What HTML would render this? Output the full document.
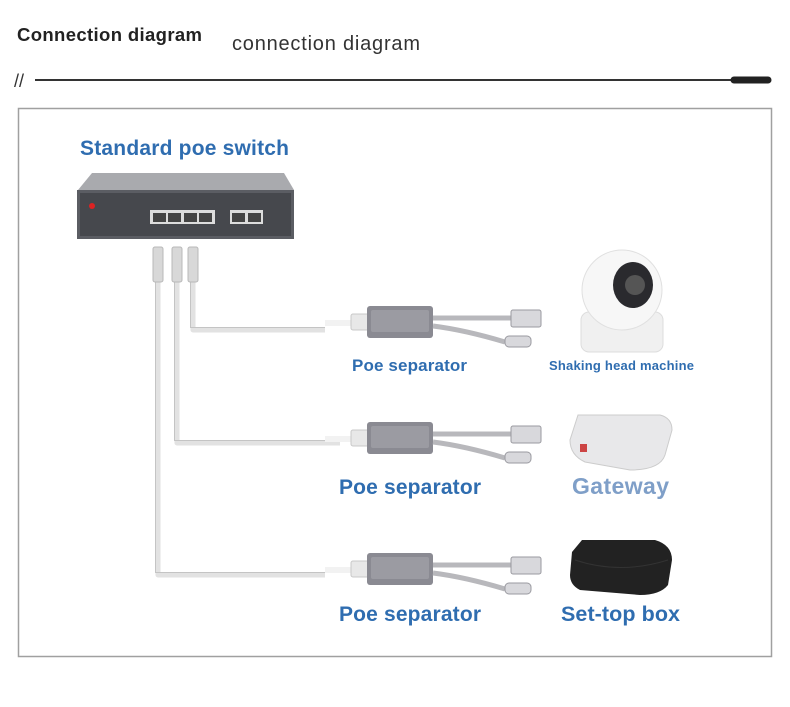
<!DOCTYPE html>
<html><head><meta charset="utf-8"><style>
body{margin:0;background:#fff;width:790px;height:707px;overflow:hidden;font-family:"Liberation Sans",sans-serif}
svg{display:block}
text{font-family:"Liberation Sans","DejaVu Sans",sans-serif}
</style></head><body>
<svg width="790" height="707" viewBox="0 0 790 707" xmlns="http://www.w3.org/2000/svg">
<defs>
<g id="sep">
  <path d="M0 14 L26 14 L26 20 L0 20 Z" fill="#f2f2f2"/>
  <rect x="26" y="8" width="28" height="16" rx="2" fill="#e8e8e8" stroke="#c8c8c8"/>
  <rect x="42" y="0" width="66" height="32" rx="3" fill="#8a8a92"/>
  <rect x="46" y="4" width="58" height="22" rx="2" fill="#9b9ba2"/>
  <path d="M108 12 L190 12 M108 20 Q140 24 180 36" stroke="#b8b8bc" stroke-width="5" fill="none"/>
  <rect x="186" y="4" width="30" height="17" rx="2" fill="#d8d8dc" stroke="#9a9aa0"/>
  <rect x="180" y="30" width="26" height="11" rx="4" fill="#d8d8dc" stroke="#9a9aa0"/>
</g>
</defs>
<text x="17" y="41" font-size="18.5" font-weight="bold" fill="#222" textLength="185">Connection diagram</text>
<text x="232" y="50" font-size="20" fill="#333" textLength="188">connection diagram</text>
<text x="14" y="87" font-size="18" fill="#333">//</text>
<line x1="35" y1="80" x2="735" y2="80" stroke="#333" stroke-width="2"/>
<line x1="734" y1="80" x2="768" y2="80" stroke="#222" stroke-width="7" stroke-linecap="round"/>
<rect x="18.5" y="108.5" width="753" height="548" fill="none" stroke="#a0a0a0" stroke-width="1.5"/>
<text x="80" y="155" font-size="21" font-weight="bold" fill="#2f6db0" textLength="209">Standard poe switch</text>
<path d="M92 173 L284 173 L294 190 L78 190 Z" fill="#a9aaae"/>
<rect x="77" y="190" width="217" height="49" fill="#5b5d63"/>
<rect x="80" y="193" width="211" height="43" fill="#46484d"/>
<circle cx="92" cy="206" r="3" fill="#d22"/>
<rect x="150" y="210" width="65" height="14" fill="#ddd"/>
<rect x="230" y="210" width="33" height="14" fill="#ddd"/>
<g fill="#444"><rect x="153" y="213" width="13" height="9"/><rect x="168" y="213" width="13" height="9"/><rect x="184" y="213" width="13" height="9"/><rect x="199" y="213" width="13" height="9"/><rect x="232" y="213" width="13" height="9"/><rect x="248" y="213" width="13" height="9"/></g>
<g fill="none" stroke="#e2e2e2" stroke-width="5" stroke-linejoin="round">
<path d="M193 282 L193 330 L325 330"/>
<path d="M177 282 L177 443 L340 443"/>
<path d="M158 282 L158 575 L325 575"/>
</g>
<g fill="none" stroke="#c4c4c4" stroke-width="1">
<path d="M190.5 282 L190.5 327.5 L325 327.5"/>
<path d="M174.5 282 L174.5 440.5 L340 440.5"/>
<path d="M155.5 282 L155.5 572.5 L325 572.5"/>
</g>
<g fill="#d8d8d8" stroke="#b8b8b8">
<rect x="153" y="247" width="10" height="35" rx="2"/>
<rect x="172" y="247" width="10" height="35" rx="2"/>
<rect x="188" y="247" width="10" height="35" rx="2"/>
</g>
<use href="#sep" x="325" y="306"/>
<use href="#sep" x="325" y="422"/>
<use href="#sep" x="325" y="553"/>
<text x="352" y="371" font-size="17" font-weight="bold" fill="#2f6db0" textLength="115">Poe separator</text>
<text x="339" y="494" font-size="21" font-weight="bold" fill="#2f6db0" textLength="142">Poe separator</text>
<text x="339" y="621" font-size="21" font-weight="bold" fill="#2f6db0" textLength="142">Poe separator</text>
<text x="549" y="370" font-size="13" font-weight="bold" fill="#2f6db0" textLength="145">Shaking head machine</text>
<text x="572" y="494" font-size="23" font-weight="bold" fill="#7f9fc8" textLength="97">Gateway</text>
<text x="561" y="621" font-size="21.5" font-weight="bold" fill="#2f6db0" textLength="119">Set-top box</text>
<rect x="581" y="312" width="82" height="40" rx="8" fill="#f0f0f0" stroke="#ddd"/>
<circle cx="622" cy="290" r="40" fill="#f7f7f7" stroke="#e0e0e0"/>
<ellipse cx="633" cy="285" rx="20" ry="23" fill="#2a2a2e"/>
<circle cx="635" cy="285" r="10" fill="#555"/>
<path d="M578 415 L660 415 Q672 418 672 430 L665 455 Q660 470 630 470 L585 462 Q570 455 570 440 Z" fill="#e8e8ea" stroke="#ccc"/>
<rect x="580" y="444" width="7" height="8" fill="#c44"/>
<path d="M582 540 L655 540 Q672 545 672 560 L668 585 Q660 595 640 595 L580 590 Q570 585 570 575 L572 552 Z" fill="#222"/>
<path d="M575 560 Q620 575 668 560" stroke="#333" fill="none"/>
</svg>
</body></html>
